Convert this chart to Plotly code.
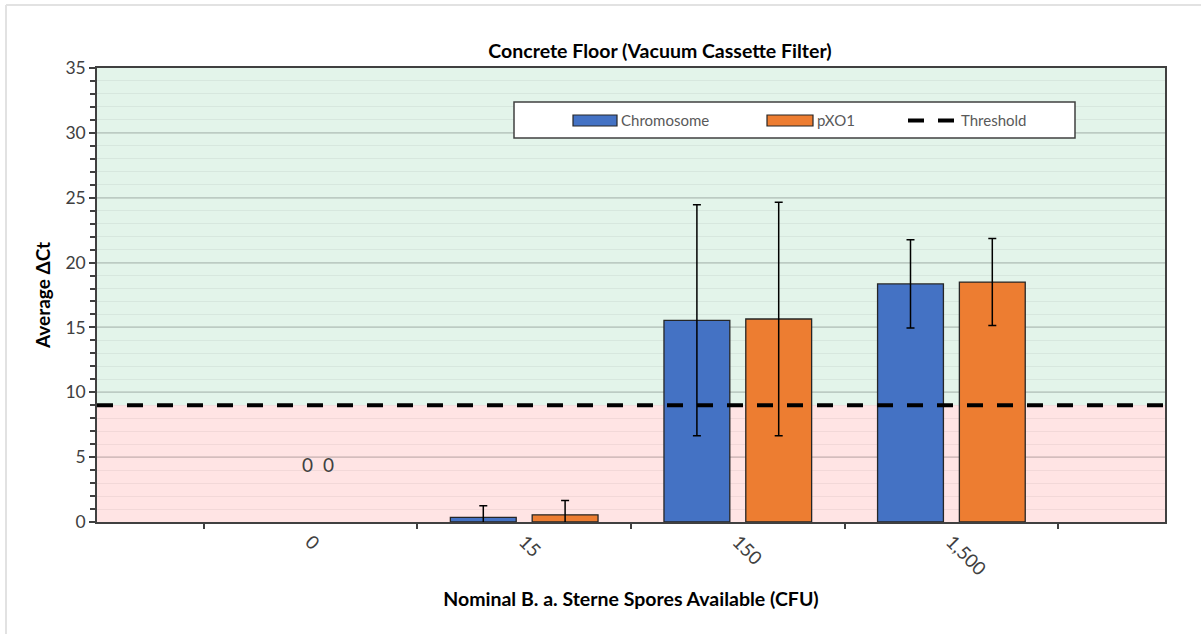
import plotly.graph_objects as go

# ---------------- data ----------------
categories = ["0", "15", "150", "1,500"]
chromosome = [0, 0.36, 15.55, 18.35]
chromosome_err = [0, 0.9, 8.9, 3.4]
pxo1 = [0, 0.55, 15.65, 18.5]
pxo1_err = [0, 1.1, 9.0, 3.35]
threshold = 9
y_ticks = [0, 5, 10, 15, 20, 25, 30, 35]

BLUE = "#4472C4"
ORANGE = "#ED7D31"
DARK = "#404040"
FONT = "Lato"

W, H = 1201, 634
L, R, T, B = 97, 36, 68, 112
PW, PH = W - L - R, H - T - B


def px_x(px):
    return (px - L) / PW


def px_y(py):
    return (H - B - py) / PH


def drawn(values):
    # Excel draws nothing (no bar, no whisker) for zero-height bars
    return [None if v == 0 else v for v in values]


fig = go.Figure()
fig.add_trace(go.Bar(
    name="Chromosome", x=categories, y=drawn(chromosome),
    marker=dict(color=BLUE, line=dict(color="#262626", width=1.3)),
    error_y=dict(type="data", array=chromosome_err, visible=True,
                 color="black", thickness=1.5, width=4),
    showlegend=False,
))
fig.add_trace(go.Bar(
    name="pXO1", x=categories, y=drawn(pxo1),
    marker=dict(color=ORANGE, line=dict(color="#262626", width=1.3)),
    error_y=dict(type="data", array=pxo1_err, visible=True,
                 color="black", thickness=1.5, width=4),
    showlegend=False,
))

# background zones and threshold
fig.add_hrect(y0=threshold, y1=max(y_ticks), fillcolor="#E3F4EA", line_width=0, layer="below")
fig.add_hrect(y0=0, y1=threshold, fillcolor="#FFE4E4", line_width=0, layer="below")
fig.add_hline(y=threshold, line=dict(color="black", width=4, dash="16px,14px"), layer="above")

# zero-value data labels on the first category
for v, dx in ((chromosome[0], -3), (pxo1[0], 18)):
    fig.add_annotation(x=categories[0], y=4.4, text=f"{v:g}", showarrow=False,
                       xshift=dx, font=dict(family=FONT, size=19, color=DARK))

# ---------------- custom legend ----------------
shapes = []
shapes.append(dict(type="rect", xref="paper", yref="paper",
                   x0=px_x(514), x1=px_x(1075), y0=px_y(138), y1=px_y(102),
                   fillcolor="white", line=dict(color=DARK, width=1.5), layer="above"))
shapes.append(dict(type="rect", xref="paper", yref="paper",
                   x0=px_x(573), x1=px_x(617), y0=px_y(126), y1=px_y(115),
                   fillcolor=BLUE, line=dict(color="#262626", width=1.2), layer="above"))
shapes.append(dict(type="rect", xref="paper", yref="paper",
                   x0=px_x(767), x1=px_x(813), y0=px_y(126), y1=px_y(115),
                   fillcolor=ORANGE, line=dict(color="#262626", width=1.2), layer="above"))
shapes.append(dict(type="line", xref="paper", yref="paper",
                   x0=px_x(908), x1=px_x(955), y0=px_y(120.5), y1=px_y(120.5),
                   line=dict(color="black", width=4, dash="16px,14px"), layer="above"))
# outer chart frame (left + top edges)
shapes.append(dict(type="line", xref="paper", yref="paper",
                   x0=px_x(6), x1=px_x(6), y0=px_y(634), y1=px_y(5),
                   line=dict(color="#E2E2E2", width=2)))
shapes.append(dict(type="line", xref="paper", yref="paper",
                   x0=px_x(6), x1=px_x(1201), y0=px_y(5), y1=px_y(5),
                   line=dict(color="#E2E2E2", width=2)))
for s in shapes:
    fig.add_shape(**s)

for name, xpx in (("Chromosome", 619), ("pXO1", 815), ("Threshold", 959)):
    fig.add_annotation(xref="paper", yref="paper", x=px_x(xpx), y=px_y(120.5),
                       text=name, showarrow=False, xanchor="left", yanchor="middle",
                       font=dict(family=FONT, size=15, color="#595959"))

fig.update_layout(
    width=W, height=H,
    margin=dict(l=L, r=R, t=T, b=B, autoexpand=False),
    paper_bgcolor="white", plot_bgcolor="white",
    barmode="group", bargap=0.234, bargroupgap=0.195,
    font=dict(family=FONT, color=DARK),
    title=dict(text="<b>Concrete Floor (Vacuum Cassette Filter)</b>",
               x=660 / W, xanchor="center", xref="container",
               y=1 - 51 / H, yanchor="middle", yref="container",
               font=dict(family=FONT, size=19.5, color="black")),
    xaxis=dict(
        type="category", range=[-1, len(categories)],
        tickson="boundaries", ticks="outside", ticklen=5, tickcolor=DARK, tickwidth=1.5,
        tickangle=45, tickfont=dict(family=FONT, size=18.5, color=DARK),
        showline=True, linecolor=DARK, linewidth=1.5, mirror=True,
        showgrid=False, zeroline=False,
        title=dict(text="<b>Nominal B. a. Sterne Spores Available (CFU)</b>",
                   font=dict(family=FONT, size=19.5, color="black"), standoff=14),
    ),
    yaxis=dict(
        range=[0, max(y_ticks)], tickvals=y_ticks,
        ticks="outside", ticklen=6, tickcolor=DARK, tickwidth=1.5,
        tickfont=dict(family=FONT, size=17.5, color=DARK),
        showline=True, linecolor=DARK, linewidth=1.5, mirror=True,
        showgrid=True, gridcolor="rgba(0,0,0,0.12)", gridwidth=1.5,
        minor=dict(dtick=1, ticks="outside", ticklen=5, tickcolor=DARK, tickwidth=1.5,
                   showgrid=True, gridcolor="rgba(0,0,0,0.05)", gridwidth=1),
        zeroline=False,
        title=dict(text="<b>Average ΔCt</b>",
                   font=dict(family=FONT, size=19, color="black"), standoff=10),
    ),
)

fig.write_html("out.html")
